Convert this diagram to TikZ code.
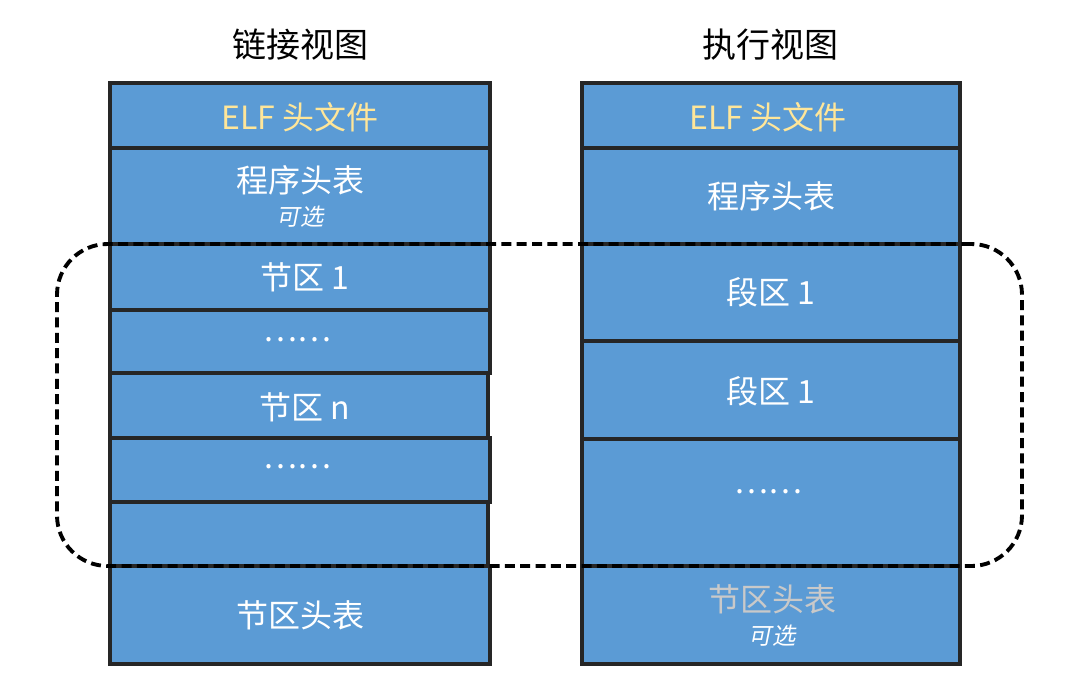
\documentclass[tikz,border=0pt]{standalone}
\usepackage{fontspec}
\setmainfont{Noto Sans CJK SC}
\newfontfamily\slantfont[FakeSlant=0.2]{Noto Sans CJK SC}
\definecolor{blockfill}{HTML}{5B9BD5}
\definecolor{blockline}{HTML}{262626}
\definecolor{elfyellow}{HTML}{FFE699}
\definecolor{softgray}{HTML}{C9C9C9}
\tikzset{
  row/.style={draw=blockline, fill=blockfill, line width=2.3pt, inner sep=0pt, outer sep=0pt,
    minimum width=#1*0.75pt},
  maintext/.style={text=white, font=\fontsize{24}{28}\selectfont, inner sep=0pt},
  opttext/.style={text=white, font=\slantfont\fontsize{17.5}{20}\selectfont, inner sep=0pt},
  titletext/.style={text=black, font=\fontsize{25.5}{30}\selectfont, inner sep=0pt},
  group/.style={draw=black, line width=2.9pt, dash pattern=on 7.5pt off 4pt, rounded corners=38pt,
    inner sep=0pt, minimum width=965*0.75pt, minimum height=322*0.75pt}
}
\begin{document}
\begin{tikzpicture}[x=0.75pt, y=-0.75pt]
\useasboundingbox (0,0) rectangle (1072,690);
% titles
\node[titletext] (t1) at (300,45) {链接视图};
\node[titletext] (t2) at (770,45) {执行视图};
% left column
\node[row=380, minimum height=65*0.75pt] (l1) at (300,115.5) {};
\node[row=380, minimum height=96*0.75pt] (l2) at (300,196) {};
\node[row=380, minimum height=66*0.75pt] (l3) at (300,277) {};
\node[row=380, minimum height=63*0.75pt] (l4) at (300,341.5) {};
\node[row=378, minimum height=65*0.75pt] (l5) at (299,405.5) {};
\node[row=380, minimum height=64*0.75pt] (l6) at (300,470) {};
\node[row=378, minimum height=64*0.75pt] (l7) at (299,534) {};
\node[row=380, minimum height=98*0.75pt] (l8) at (300,615) {};
\node[maintext, text=elfyellow] (l1t) at (300,117) {ELF 头文件};
\node[maintext] (l2t) at (300,180) {程序头表};
\node[opttext] (l2o) at (300,217) {可选};
\node[maintext] (l3t) at (305,277) {节区 1};
\node[maintext] (l4t) at (297,340) {……};
\node[maintext] (l5t) at (305,407) {节区 n};
\node[maintext] (l6t) at (297,467) {……};
\node[maintext] (l8t) at (300,615) {节区头表};
% right column
\node[row=378, minimum height=65*0.75pt] (r1) at (771,115.5) {};
\node[row=378, minimum height=96*0.75pt] (r2) at (771,196) {};
\node[row=378, minimum height=97*0.75pt] (r3) at (771,292.5) {};
\node[row=378, minimum height=98*0.75pt] (r4) at (771,390) {};
\node[row=378, minimum height=127*0.75pt] (r5) at (771,502.5) {};
\node[row=378, minimum height=98*0.75pt] (r6) at (771,615) {};
\node[maintext, text=elfyellow] (r1t) at (768,117) {ELF 头文件};
\node[maintext] (r2t) at (771,196) {程序头表};
\node[maintext] (r3t) at (771,292) {段区 1};
\node[maintext] (r4t) at (771,391) {段区 1};
\node[maintext] (r5t) at (768,492) {……};
\node[maintext, text=softgray] (r6t) at (772,599) {节区头表};
\node[opttext] (r6o) at (772,636) {可选};
% dashed group outline
\node[group] (grp) at (539.5,405) {};
\end{tikzpicture}
\end{document}
